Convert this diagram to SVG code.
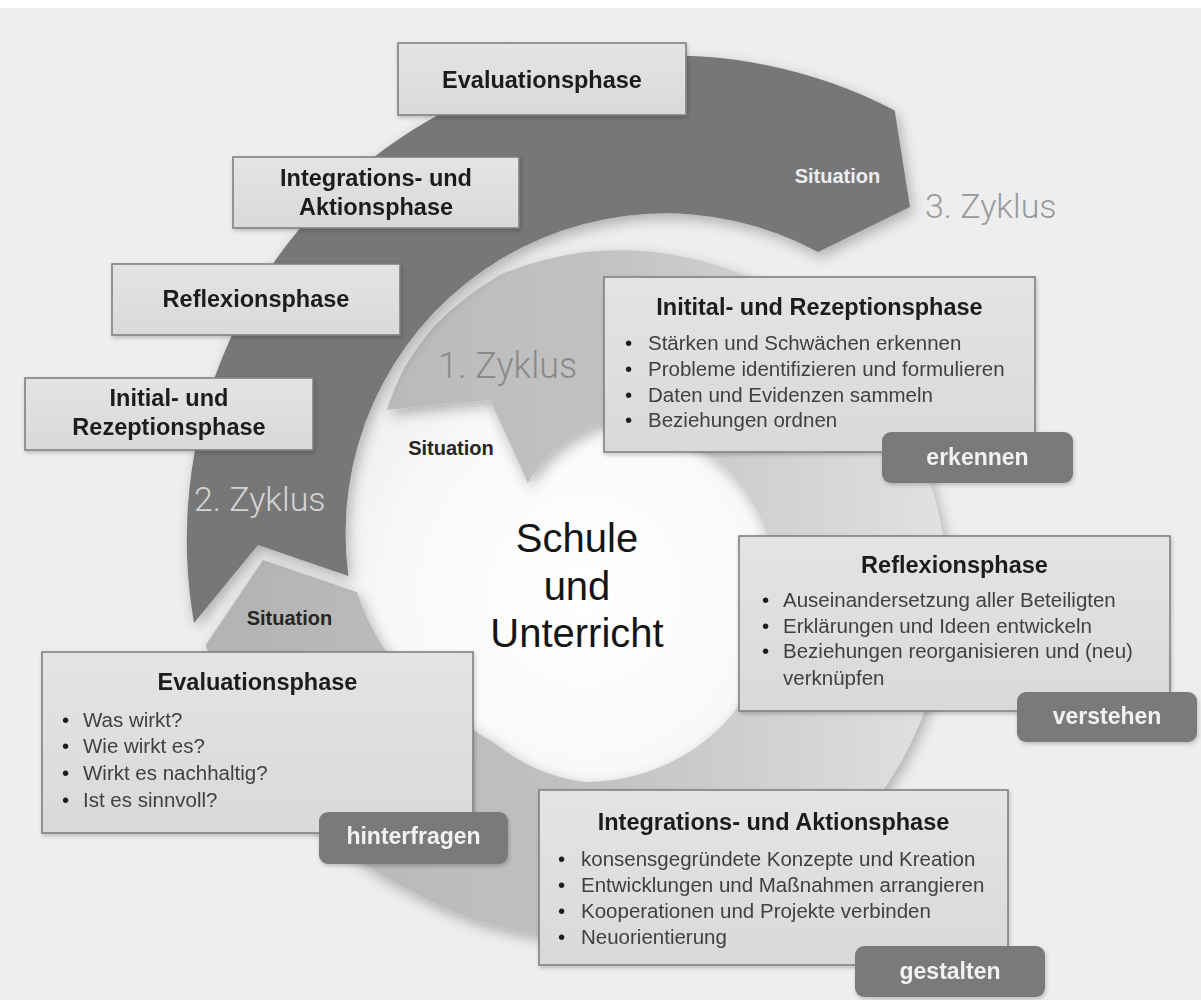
<svg xmlns="http://www.w3.org/2000/svg" width="1201" height="1000" viewBox="0 0 1201 1000">
  <defs>
    <linearGradient id="ringFill" gradientUnits="userSpaceOnUse" x1="200" y1="0" x2="1000" y2="0">
      <stop offset="0" stop-color="#b3b3b3"/>
      <stop offset="0.5" stop-color="#c2c2c2"/>
      <stop offset="1" stop-color="#e6e6e6"/>
    </linearGradient>
    <radialGradient id="glow" gradientUnits="userSpaceOnUse" cx="585" cy="590" r="330">
      <stop offset="0" stop-color="#ffffff"/>
      <stop offset="0.6" stop-color="#f8f8f8"/>
      <stop offset="1" stop-color="#eeeeee" stop-opacity="0"/>
    </radialGradient>
    <linearGradient id="boxFill" x1="0" y1="0" x2="0" y2="1">
      <stop offset="0" stop-color="#e4e4e4"/>
      <stop offset="1" stop-color="#d9d9d9"/>
    </linearGradient>
    <filter id="bandShadow" x="-20%" y="-20%" width="140%" height="140%">
      <feGaussianBlur in="SourceAlpha" stdDeviation="7"/>
      <feOffset dx="3" dy="5"/>
      <feComponentTransfer><feFuncA type="linear" slope="0.28"/></feComponentTransfer>
      <feMerge><feMergeNode/><feMergeNode in="SourceGraphic"/></feMerge>
    </filter>
    <filter id="boxShadow" x="-10%" y="-10%" width="120%" height="130%">
      <feGaussianBlur in="SourceAlpha" stdDeviation="2"/>
      <feOffset dx="1" dy="2"/>
      <feComponentTransfer><feFuncA type="linear" slope="0.22"/></feComponentTransfer>
      <feMerge><feMergeNode/><feMergeNode in="SourceGraphic"/></feMerge>
    </filter>
  </defs>
  <style>
    .box { fill: url(#boxFill); stroke: #808080; stroke-width: 1.6; }
    .pill { fill: #7a7a7a; }
    .lbl { font-family: "Liberation Sans", Arial, sans-serif; font-weight: bold; font-size: 23.5px; fill: #1c1c1c; text-anchor: middle; }
    .body { font-family: "Liberation Sans", Arial, sans-serif; font-size: 20.5px; fill: #404040; }
    .dot { font-family: "Liberation Sans", Arial, sans-serif; font-size: 20.5px; fill: #1a1a1a; }
    .pilltxt { font-family: "Liberation Sans", Arial, sans-serif; font-weight: bold; font-size: 23px; fill: #f2f2f2; text-anchor: middle; }
    .sit { font-family: "Liberation Sans", Arial, sans-serif; font-weight: bold; font-size: 20px; fill: #262626; text-anchor: middle; }
    .sit.onDark { fill: #eeeeee; }
    .cyc { font-family: Roboto, "Liberation Sans", Arial, sans-serif; font-weight: 300; }
    .center { font-family: "Liberation Sans", Arial, sans-serif; font-size: 40px; fill: #151515; text-anchor: middle; }
  </style>

  <!-- backdrop -->
  <rect x="0" y="0" width="1201" height="1000" fill="#eeeeee"/>
  <rect x="0" y="0" width="1201" height="8" fill="#ffffff"/>
  <circle cx="585" cy="590" r="330" fill="url(#glow)"/>

  <!-- spiral bands -->
  <g id="connectors">
    <!-- first turn: tail notch at upper left, head at lower left -->
    <path id="cycle1" filter="url(#bandShadow)" fill="url(#ringFill)"
      d="M 387,410
         A 273 273 0 0 1 403.7,369
         A 291 291 0 0 1 435,325.2
         A 311 311 0 0 1 501.7,274
         A 327 327 0 0 1 585,252
         A 337 337 0 0 1 673.5,254.7
         A 346 346 0 0 1 760,281.9
         A 354 354 0 0 1 895,406
         A 360 360 0 0 1 947,585
         A 362 362 0 0 1 898.5,766
         A 361 361 0 0 1 765,896.8
         A 356 356 0 0 1 585,937
         A 352 352 0 0 1 409,889.8
         A 358 358 0 0 1 268.9,767.5
         A 374 374 0 0 1 205.7,645.1
         L 263,560
         L 357.1,592.2
         A 220 220 0 0 0 383.2,646.7
         A 205 205 0 0 0 413.5,684
         A 191 191 0 0 0 454.9,715.1
         A 183 183 0 0 0 494,742.6
         A 186 186 0 0 0 535.8,768.5
         A 194 194 0 0 0 585,782
         A 197 197 0 0 0 683.5,755.6
         A 196 196 0 0 0 753.9,682.5
         A 194 194 0 0 0 777,585
         A 189 189 0 0 0 746.1,492
         A 181 181 0 0 0 673,432.6
         A 170 170 0 0 0 602,422.9
         A 149 149 0 0 0 550.1,454.6
         A 126 126 0 0 0 527.9,482.9
         L 490,400 Z"/>
    <!-- second turn: dark outer band -->
    <path id="cycle2" filter="url(#bandShadow)" fill="#777777"
      d="M 194,623 L 258,545 L 348.4,576 A 320 320 0 0 1 818,252 L 910,207 L 894.7,110.4 A 484 484 0 0 0 194,623 Z"/>
  </g>

  <!-- cycle and situation labels -->
  <g id="labels">
    <text class="cyc" x="438" y="378" font-size="36" fill="#8a8a8a">1. Zyklus</text>
    <text class="cyc" x="194" y="511" font-size="34" fill="#d4d4d4">2. Zyklus</text>
    <text class="cyc" x="925" y="218" font-size="34" fill="#9a9a9a">3. Zyklus</text>
    <text class="sit" x="451" y="455">Situation</text>
    <text class="sit" x="289.5" y="625">Situation</text>
    <text class="sit onDark" x="837.5" y="183">Situation</text>
  </g>

  <g id="center">
    <text class="center" x="577" y="552">Schule</text>
    <text class="center" x="577" y="600">und</text>
    <text class="center" x="577" y="647">Unterricht</text>
  </g>

  <!-- phase boxes along the outer turn -->
  <g id="outer-evaluation" filter="url(#boxShadow)">
    <rect class="box" x="398" y="43" width="288" height="72"/>
    <text class="lbl" x="542" y="88">Evaluationsphase</text>
  </g>
  <g id="outer-integration" filter="url(#boxShadow)">
    <rect class="box" x="233" y="157" width="286" height="71"/>
    <text class="lbl" x="376" y="186">Integrations- und</text>
    <text class="lbl" x="376" y="215">Aktionsphase</text>
  </g>
  <g id="outer-reflection" filter="url(#boxShadow)">
    <rect class="box" x="112" y="264" width="288" height="71"/>
    <text class="lbl" x="256" y="307">Reflexionsphase</text>
  </g>
  <g id="outer-initial" filter="url(#boxShadow)">
    <rect class="box" x="25" y="378" width="288" height="72"/>
    <text class="lbl" x="169" y="406">Initial- und</text>
    <text class="lbl" x="169" y="435">Rezeptionsphase</text>
  </g>

  <!-- detailed phase boxes along the first turn -->
  <g id="phase-initial" filter="url(#boxShadow)">
    <rect class="box" x="604" y="277" width="431" height="175"/>
    <text class="lbl" x="819.5" y="315">Initital- und Rezeptionsphase</text>
    <text class="dot" x="625" y="350">•</text>
    <text class="dot" x="625" y="376">•</text>
    <text class="dot" x="625" y="401.5">•</text>
    <text class="dot" x="625" y="427">•</text>
    <text class="body" x="648" y="350">Stärken und Schwächen erkennen</text>
    <text class="body" x="648" y="376">Probleme identifizieren und formulieren</text>
    <text class="body" x="648" y="401.5">Daten und Evidenzen sammeln</text>
    <text class="body" x="648" y="427">Beziehungen ordnen</text>
    <rect class="pill" x="882" y="432" width="191" height="51" rx="9"/>
    <text class="pilltxt" x="977.5" y="465">erkennen</text>
  </g>

  <g id="phase-reflection" filter="url(#boxShadow)">
    <rect class="box" x="739" y="536" width="431" height="175"/>
    <text class="lbl" x="954.5" y="573">Reflexionsphase</text>
    <text class="dot" x="762" y="607">•</text>
    <text class="dot" x="762" y="633">•</text>
    <text class="dot" x="762" y="658">•</text>
    <text class="body" x="783" y="607">Auseinandersetzung aller Beteiligten</text>
    <text class="body" x="783" y="633">Erklärungen und Ideen entwickeln</text>
    <text class="body" x="783" y="658">Beziehungen reorganisieren und (neu)</text>
    <text class="body" x="783" y="685">verknüpfen</text>
    <rect class="pill" x="1017" y="692" width="180" height="50" rx="9"/>
    <text class="pilltxt" x="1107" y="724">verstehen</text>
  </g>

  <g id="phase-integration" filter="url(#boxShadow)">
    <rect class="box" x="539" y="790" width="469" height="175"/>
    <text class="lbl" x="773.5" y="830">Integrations- und Aktionsphase</text>
    <text class="dot" x="558" y="866">•</text>
    <text class="dot" x="558" y="892">•</text>
    <text class="dot" x="558" y="918">•</text>
    <text class="dot" x="558" y="944">•</text>
    <text class="body" x="581" y="866">konsensgegründete Konzepte und Kreation</text>
    <text class="body" x="581" y="892">Entwicklungen und Maßnahmen arrangieren</text>
    <text class="body" x="581" y="918">Kooperationen und Projekte verbinden</text>
    <text class="body" x="581" y="944">Neuorientierung</text>
    <rect class="pill" x="855" y="946" width="190" height="51" rx="9"/>
    <text class="pilltxt" x="950" y="979">gestalten</text>
  </g>

  <g id="phase-evaluation" filter="url(#boxShadow)">
    <rect class="box" x="42" y="652" width="431" height="181"/>
    <text class="lbl" x="257.5" y="690">Evaluationsphase</text>
    <text class="dot" x="62" y="727">•</text>
    <text class="dot" x="62" y="753">•</text>
    <text class="dot" x="62" y="780">•</text>
    <text class="dot" x="62" y="807">•</text>
    <text class="body" x="83" y="727">Was wirkt?</text>
    <text class="body" x="83" y="753">Wie wirkt es?</text>
    <text class="body" x="83" y="780">Wirkt es nachhaltig?</text>
    <text class="body" x="83" y="807">Ist es sinnvoll?</text>
    <rect class="pill" x="319" y="812" width="189" height="52" rx="9"/>
    <text class="pilltxt" x="413.5" y="844">hinterfragen</text>
  </g>
</svg>
